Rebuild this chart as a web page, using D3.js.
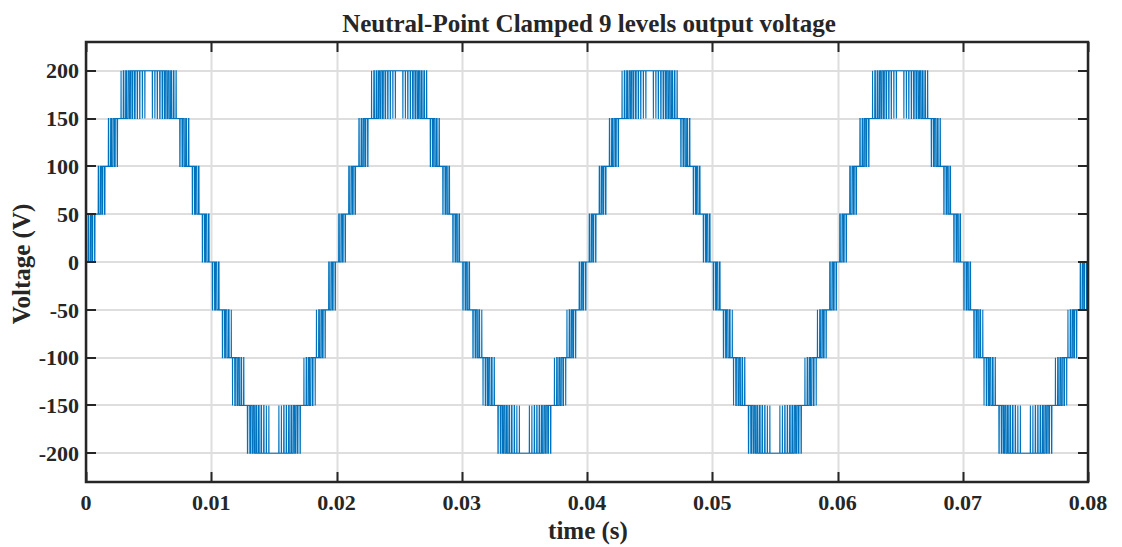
<!DOCTYPE html>
<html>
<head>
<meta charset="utf-8">
<script src="https://cdn.jsdelivr.net/npm/d3@7"></script>
<style>
  html, body { margin: 0; padding: 0; background: #ffffff; }
  svg { display: block; }
  text { font-family: "Liberation Serif", "Times New Roman", serif; font-weight: bold; fill: #262626; }
</style>
</head>
<body>
<svg id="chart" width="1122" height="547"></svg>
<script>
// ---------------- data ----------------
const titleText = ["Neutral-Point Clamped 9 levels output voltage"];
const xLabelText = ["time (s)"];
const yLabelText = ["Voltage (V)"];
const xDomain = [0, 0.08];
const yDomain = [-230, 230];
const xTicks = [0, 0.01, 0.02, 0.03, 0.04, 0.05, 0.06, 0.07, 0.08];
const xTickLabels = ["0", "0.01", "0.02", "0.03", "0.04", "0.05", "0.06", "0.07", "0.08"];
const yTicks = [-200, -150, -100, -50, 0, 50, 100, 150, 200];
const yTickLabels = ["-200", "-150", "-100", "-50", "0", "50", "100", "150", "200"];
// inverter output levels (9 levels, 50 V steps)
const levels = [-200, -150, -100, -50, 0, 50, 100, 150, 200];
// modulator settings: 50 Hz fundamental, 200 V peak reference,
// ~5 kHz carrier, 10 us logging step; first logged sample at -50 V
const fundamentalHz = [50];
const referencePeak = [200];
const carrierHz = [5000];
const carrierOffset = [0.005];
const sampleStep = [1e-5];
const firstSample = [-50];

// --------- build the sampled PD-PWM output from those settings ---------
function buildSeries() {
  const pts = [];
  const lo = levels[0], step = levels[1] - levels[0], nBands = levels.length - 1;
  const n = Math.round((xDomain[1] - xDomain[0]) / sampleStep[0]);
  for (let i = 0; i <= n; i++) {
    const t = i * sampleStep[0];
    if (i === 0) { pts.push([t, firstSample[0]]); continue; }
    const r = referencePeak[0] * Math.sin(2 * Math.PI * fundamentalHz[0] * t);
    const ph = (t * carrierHz[0] + carrierOffset[0]) % 1;
    const c = ph < 0.5 ? 2 * ph : 2 - 2 * ph;   // triangular carrier 0..1
    const u = (r - lo) / step;
    let k = Math.floor(u);
    if (k >= nBands) k = nBands - 1;
    if (k < 0) k = 0;
    const frac = u - k;
    const v = levels[k] + (frac > c ? step : 0);
    pts.push([t, v]);
  }
  return pts;
}
const series = buildSeries();

// ---------------- layout ----------------
const svg = d3.select("#chart");
const plot = { left: 86, right: 1088, top: 42, bottom: 482 };
const x = d3.scaleLinear().domain(xDomain).range([plot.left, plot.right]);
const y = d3.scaleLinear().domain(yDomain).range([plot.bottom, plot.top]);

const gridColor = "#dedede";
const axisColor = "#262626";
const tickLen = 10;

// grid
const grid = svg.append("g");
grid.selectAll("line.gx").data(xTicks).enter().append("line")
  .attr("x1", d => Math.round(x(d)) + 0.5).attr("x2", d => Math.round(x(d)) + 0.5)
  .attr("y1", plot.top).attr("y2", plot.bottom)
  .attr("stroke", gridColor).attr("stroke-width", 2);
grid.selectAll("line.gy").data(yTicks).enter().append("line")
  .attr("y1", d => Math.round(y(d))).attr("y2", d => Math.round(y(d)))
  .attr("x1", plot.left).attr("x2", plot.right)
  .attr("stroke", gridColor).attr("stroke-width", 2);

// clip
svg.append("clipPath").attr("id", "clip").append("rect")
  .attr("x", plot.left).attr("y", plot.top)
  .attr("width", plot.right - plot.left).attr("height", plot.bottom - plot.top);

// waveform
const line = d3.line().x(d => x(d[0])).y(d => y(d[1]));
svg.append("path").datum(series)
  .attr("clip-path", "url(#clip)")
  .attr("d", line)
  .attr("fill", "none")
  .attr("stroke", "#0072BD")
  .attr("stroke-width", 1.1)
  .attr("stroke-linejoin", "miter");

// ticks (inside, on all four sides)
const ticks = svg.append("g").attr("stroke", axisColor).attr("stroke-width", 2);
xTicks.forEach(d => {
  const xx = Math.round(x(d)) + 0.5;
  ticks.append("line").attr("x1", xx).attr("x2", xx).attr("y1", plot.bottom).attr("y2", plot.bottom - tickLen);
  ticks.append("line").attr("x1", xx).attr("x2", xx).attr("y1", plot.top).attr("y2", plot.top + tickLen);
});
yTicks.forEach(d => {
  const yy = Math.round(y(d));
  ticks.append("line").attr("y1", yy).attr("y2", yy).attr("x1", plot.left).attr("x2", plot.left + tickLen);
  ticks.append("line").attr("y1", yy).attr("y2", yy).attr("x1", plot.right).attr("x2", plot.right - tickLen);
});

// box
svg.append("rect")
  .attr("x", plot.left).attr("y", plot.top)
  .attr("width", plot.right - plot.left).attr("height", plot.bottom - plot.top)
  .attr("fill", "none").attr("stroke", axisColor).attr("stroke-width", 2.5);

// tick labels
svg.append("g").selectAll("text").data(xTicks).enter().append("text")
  .attr("x", d => x(d)).attr("y", 510)
  .attr("text-anchor", "middle").attr("font-size", 22)
  .text((d, i) => xTickLabels[i]);
svg.append("g").selectAll("text").data(yTicks).enter().append("text")
  .attr("x", 79).attr("y", d => y(d)).attr("dy", "0.35em")
  .attr("text-anchor", "end").attr("font-size", 22)
  .text((d, i) => yTickLabels[i]);

// title & labels
svg.append("text").attr("x", 589).attr("y", 32)
  .attr("text-anchor", "middle").attr("font-size", 25).text(titleText[0]);
svg.append("text").attr("x", 588).attr("y", 539)
  .attr("text-anchor", "middle").attr("font-size", 25).text(xLabelText[0]);
svg.append("text").attr("transform", `translate(30,264) rotate(-90)`)
  .attr("text-anchor", "middle").attr("font-size", 25).text(yLabelText[0]);
</script>
</body>
</html>
